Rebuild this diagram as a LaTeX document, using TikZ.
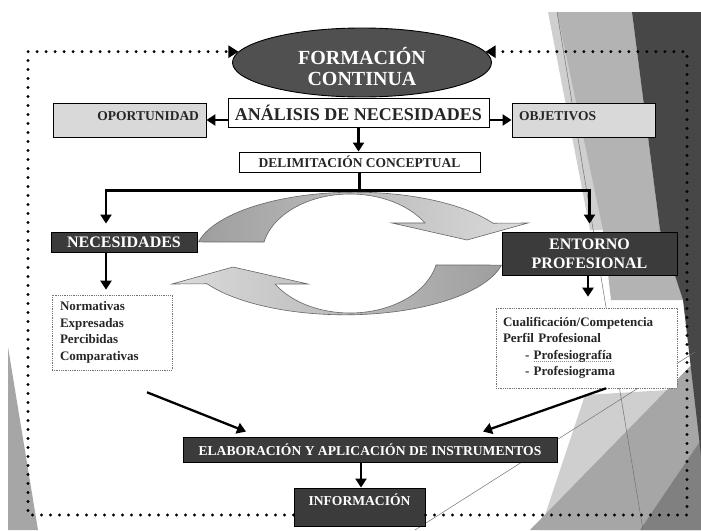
\documentclass[tikz,border=0pt]{standalone}
\usepackage{fontspec}
\setmainfont{Liberation Serif}
\usetikzlibrary{arrows.meta, positioning, shapes.geometric, calc}
\definecolor{bgDark}{HTML}{474747}
\definecolor{bgMid}{HTML}{A6A6A6}
\definecolor{bgLight}{HTML}{B3B3B3}
\definecolor{bgPale}{HTML}{CFCFCF}
\definecolor{boxDark}{HTML}{3B3B3B}
\definecolor{boxLight}{HTML}{D9D9D9}
\definecolor{ovalDark}{HTML}{505050}
\definecolor{txtDark}{HTML}{262626}
% spell-check style underline
\newcommand\spellmark[1]{\setbox0\hbox{#1}\rlap{\textcolor{black!45}{\raisebox{-0.35ex}{\hbox to \wd0{\xleaders\hbox{\rule{1.2pt}{0.7pt}\kern0.8pt}\hfil}}}}#1}

\begin{document}
\begin{tikzpicture}[x=1pt, y=-1pt,
  flow/.style={-{Triangle[length=9pt,width=11pt]}, line width=2.3pt},
  frameline/.style={line width=3.2pt, dash pattern=on 0pt off 9pt, line cap=round, -{Triangle[length=10pt,width=12pt]}},
  darkbox/.style={draw=black, line width=0.9pt, fill=boxDark, text=white, inner sep=0pt},
  lightbox/.style={draw=black, line width=0.9pt, fill=boxLight, text=txtDark, inner xsep=7pt, inner ysep=5pt, text height=12pt, text depth=12pt, font=\bfseries\fontsize{13.5}{15}\selectfont},
  listbox/.style={draw=black!55, dash pattern=on 1pt off 0.8pt, line width=0.6pt, fill=white, text=txtDark, align=left, font=\bfseries\fontsize{13}{16.5}\selectfont},
  cyclearrow/.style={draw=black!60, line width=0.6pt}]
  \fill[white] (0,0) rectangle (701,530);
  \useasboundingbox (0,0) rectangle (701,530);
  % slide background
  \fill[bgPale] (548,12) -- (632,12) -- (660,230) -- (590,230) -- cycle;
  \fill[bgLight] (557,12) -- (632,12) -- (660,230) -- (683,300) -- (611,300) -- (603,230) -- cycle;
  \fill[bgPale] (540,530) -- (585,395) -- (701,388) -- (701,530) -- cycle;
  \fill[bgMid] (530,530) -- (701,355) -- (701,530) -- cycle;
  \fill[black!50] (640,530) -- (701,440) -- (701,530) -- cycle;
  \fill[bgDark] (632,12) -- (701,12) -- (701,455) -- (683,300) -- (660,230) -- cycle;
  \fill[bgMid] (8,347) -- (38,530) -- (8,530) -- cycle;
  \draw[black!55, line width=0.5pt] (557,12) -- (643,530);
  \draw[black!55, line width=0.5pt] (415,530) -- (695,352);

  % the two curved arrows
  \draw[cyclearrow, left color=black!38, right color=black!14]
    ($(355,255)+(192:160 and 62.8)$) arc[start angle=192, end angle=329.6, x radius=160, y radius=62.8]
    -- (528,223) -- (467,240) -- (392,223)
    -- ($(350,255)+(328.3:88 and 61)$) arc[start angle=328.3, end angle=192.3, x radius=88, y radius=61] -- cycle;
  \draw[cyclearrow, left color=black!14, right color=black!38]
    ($(345,252)+(12:160 and 62.8)$) arc[start angle=12, end angle=149.6, x radius=160, y radius=62.8]
    -- (172,284) -- (233,267) -- (308,284)
    -- ($(350,252)+(148.3:88 and 61)$) arc[start angle=148.3, end angle=12.3, x radius=88, y radius=61] -- cycle;

  \node[ellipse, draw=black, line width=0.9pt, fill=ovalDark, text=white, minimum width=259pt, minimum height=69pt, inner sep=0pt, align=center, text height=45pt, text depth=0pt, font=\bfseries\fontsize{20}{21}\selectfont] (form) at (362,62.5) {FORMACIÓN\\CONTINUA};
  \node[draw=black, line width=0.9pt, fill=white, text=txtDark, minimum width=261pt, minimum height=29pt, inner sep=0pt, font=\bfseries\fontsize{18}{20}\selectfont] (anal) at (358.5,112.5) {ANÁLISIS DE NECESIDADES};
  \node[lightbox, text width=139pt, align=right] (opor) at (129.5,120) {OPORTUNIDAD};
  \node[lightbox, text width=129pt, align=left] (obje) at (583.5,120) {OBJETIVOS};
  \node[draw=black, line width=0.9pt, fill=white, text=txtDark, minimum width=241pt, minimum height=20pt, inner sep=0pt, font=\bfseries\fontsize{13.5}{15}\selectfont] (deli) at (359.5,162) {DELIMITACIÓN CONCEPTUAL};
  \node[darkbox, minimum width=146pt, minimum height=20pt, font=\bfseries\fontsize{16}{19}\selectfont] (nece) at (124,242) {NECESIDADES};
  \node[darkbox, minimum width=175pt, minimum height=43pt, align=center, font=\bfseries\fontsize{16}{19}\selectfont] (ento) at (589.5,253.5) {ENTORNO\\PROFESIONAL};
  \node[listbox, text width=104pt, inner xsep=8pt, minimum height=75pt] (tipos) at (112,332.5) {Normativas\\Expresadas\\Percibidas\\Comparativas};
  \node[listbox, text width=167pt, inner xsep=7pt, minimum height=80pt] (perfil) at (586.5,348) {Cualificación/Competencia\\Perfil Profesional\\\hspace*{22pt}- \spellmark{Profesiografía}\\\hspace*{22pt}- Profesiograma};
  \node[darkbox, minimum width=374pt, minimum height=25pt, font=\bfseries\fontsize{13.6}{15}\selectfont] (elab) at (370,449.5) {ELABORACIÓN Y APLICACIÓN DE INSTRUMENTOS};
  \node[darkbox, minimum width=131pt, inner ysep=5pt, text height=12pt, text depth=16pt, font=\bfseries\fontsize{13.6}{15}\selectfont] (info) at (359.5,507) {INFORMACIÓN};

  % dotted frame
  \coordinate (ftl) at (28,52);
  \coordinate (fbr) at (687,515);
  \draw[frameline] (info.west |- fbr) -- (ftl |- fbr) -- (ftl |- form.175) -- (form.175);
  \draw[frameline] (info.east |- fbr) -- (fbr) -- (fbr |- form.5) -- (form.5);

  % connectors
  \draw[flow] (anal.west |- opor.east) -- (opor.east);
  \draw[flow] (anal.east |- obje.west) -- (obje.west);
  \draw[flow] (anal.south) -- (anal.south |- deli.north);
  \draw[line width=2.3pt] (deli.south) -- ++(0,18) coordinate (split);
  \draw[flow] (split) -| ([xshift=-18pt,yshift=8pt]nece.north);
  \draw[flow] (split) -| ([yshift=8pt]ento.north);
  \draw[flow] ([xshift=-18pt]nece.south) -- ([xshift=-6pt,yshift=5pt]tipos.north);
  \draw[flow] ([xshift=-1.5pt]ento.south) -- ([xshift=1.5pt,yshift=11pt]perfil.north);
  \draw[flow] ([xshift=35pt,yshift=-22pt]tipos.south) -- ([xshift=-124pt,yshift=5pt]elab.north);
  \draw[flow] ([xshift=19.5pt]perfil.south) -- ([xshift=113pt,yshift=5pt]elab.north);
  \draw[flow] ([xshift=-9pt]elab.south) -- ([xshift=1.5pt]info.north);
\end{tikzpicture}
\end{document}
